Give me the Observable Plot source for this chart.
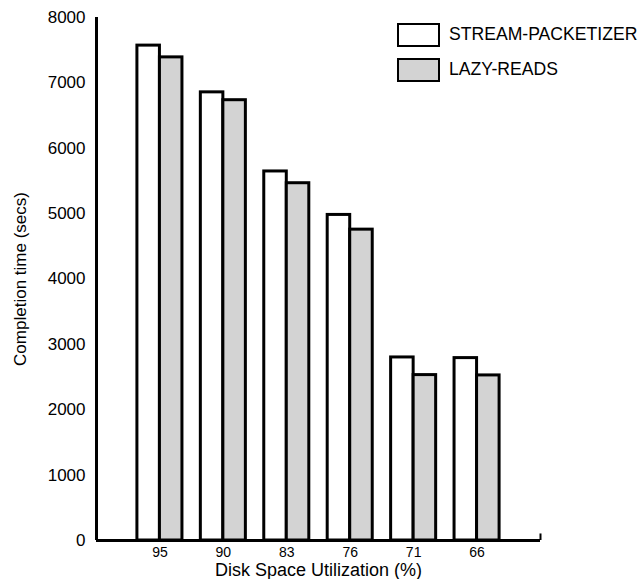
<!DOCTYPE html>
<html>
<head>
<meta charset="utf-8">
<script src="https://cdn.jsdelivr.net/npm/d3@7"></script>
<script src="https://cdn.jsdelivr.net/npm/@observablehq/plot@0.6"></script>
<style>
  body { margin: 0; background: #fff; }
  #chart { position: relative; width: 644px; height: 579px; font-family: "Liberation Sans", Arial, sans-serif; color: #000; }
  #chart svg g[aria-label^="x-axis"] { font-size: 14px; }
  .legend { position: absolute; left: 397px; top: 23px; }
  .item { display: flex; align-items: center; height: 24px; margin-bottom: 10.5px; font-size: 17.6px; line-height: 1; }
  .swatch { box-sizing: border-box; width: 43px; height: 24px; border: 2.5px solid #000; margin-right: 9px; }
</style>
</head>
<body>
<div id="chart"></div>
<script>
// Completion time per disk space utilization level, for the two read strategies
const categories = ["95", "90", "83", "76", "71", "66"];
const seriesNames = ["STREAM-PACKETIZER", "LAZY-READS"];
const streamPacketizer = [7570, 6855, 5645, 4980, 2800, 2790];
const lazyReads = [7390, 6735, 5465, 4755, 2530, 2525];
const yTicks = [0, 1000, 2000, 3000, 4000, 5000, 6000, 7000, 8000];
const seriesFill = ["#ffffff", "#d3d3d3"];

// Each group sits at an integer position; its two bars share the slot side by side
const barWidth = 0.355;
const rows = [];
categories.forEach((cat, k) => {
  rows.push({pos: k + 1, cat, series: seriesNames[0], value: streamPacketizer[k]});
  rows.push({pos: k + 1, cat, series: seriesNames[1], value: lazyReads[k]});
});
const xMax = categories.length + 1;

const chart = Plot.plot({
  width: 644,
  height: 579,
  marginLeft: 96,
  marginRight: 104,
  marginTop: 17,
  marginBottom: 39,
  style: {fontFamily: '"Liberation Sans", Arial, sans-serif', fontSize: "17px", color: "#000", background: "#fff", overflow: "visible"},
  x: {
    domain: [0, xMax],
    ticks: categories.map((_, k) => k + 1),
    tickFormat: (p) => categories[p - 1],
    tickSize: 0,
    tickPadding: 7,
    label: null
  },
  y: {domain: [0, 8000], ticks: yTicks, tickFormat: (v) => String(v), tickSize: 0, tickPadding: 11, label: null},
  color: {domain: seriesNames, range: seriesFill},
  marks: [
    Plot.rectY(rows, {
      x1: (d) => (d.series === seriesNames[0] ? d.pos - barWidth : d.pos),
      x2: (d) => (d.series === seriesNames[0] ? d.pos : d.pos + barWidth),
      y1: 0,
      y2: "value",
      fill: "series",
      stroke: "#000",
      strokeWidth: 3
    }),
    Plot.ruleX([0], {stroke: "#000", strokeWidth: 3}),
    Plot.ruleY([0], {stroke: "#000", strokeWidth: 3}),
    Plot.ruleX([xMax], {y1: 0, y2: 100, stroke: "#000", strokeWidth: 2}),
    Plot.text(["Completion time (secs)"], {
      text: (d) => d, frameAnchor: "left", textAnchor: "middle", lineAnchor: "middle",
      rotate: -90, dx: -76, fontSize: 17, fill: "#000"
    }),
    Plot.text(["Disk Space Utilization (%)"], {
      text: (d) => d, frameAnchor: "bottom", textAnchor: "middle", lineAnchor: "middle",
      dy: 30, fontSize: 18, fill: "#000"
    })
  ]
});

const root = document.getElementById("chart");
root.appendChild(chart);

// Legend: outlined swatches matching the bar fills
const legend = document.createElement("div");
legend.className = "legend";
seriesNames.forEach((name, k) => {
  const item = document.createElement("div");
  item.className = "item";
  const sw = document.createElement("div");
  sw.className = "swatch";
  sw.style.background = seriesFill[k];
  const label = document.createElement("span");
  label.textContent = name;
  item.appendChild(sw);
  item.appendChild(label);
  legend.appendChild(item);
});
root.appendChild(legend);
</script>
</body>
</html>
